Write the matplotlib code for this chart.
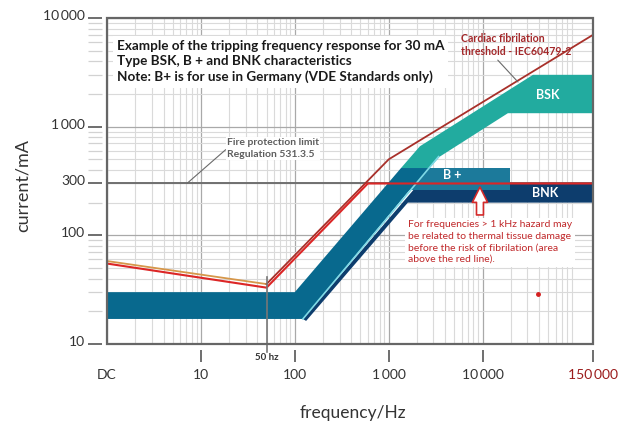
import matplotlib.pyplot as plt
from matplotlib.patches import Rectangle
from matplotlib.ticker import FixedLocator, NullFormatter
from matplotlib.transforms import ScaledTranslation

plt.rcParams['font.family'] = ['Lato', 'DejaVu Sans']

# tripping bands, frequency in Hz, current in mA
band_f = [1, 100, 1350, 2600, 122, 1]
band_i = [30, 30, 415, 415, 17, 17]

bplus_f = [1350, 19500, 19500, 1350]
bplus_i = [415, 415, 260, 260]

bsk_f = [1350, 2150, 34400, 150000, 150000, 18600, 3500, 2700]
bsk_i = [415, 660, 3000, 3000, 1330, 1330, 530, 415]

bnk_f = [122, 132, 1600, 150000, 150000, 2100]
bnk_i = [17, 16.3, 200, 200, 300, 300]

edge_f = [122, 3400]
edge_i = [17, 530]

# limit curves
cardiac_f = [1, 50, 1000, 150000]
cardiac_i = [58, 35.6, 500, 7000]
thermal_f = [1, 50, 600, 150000]
thermal_i = [55, 33, 300, 300]
fire_i = 300

x_ticks = [1, 10, 100, 1000, 10000, 150000]
x_labels = ['DC', '10', '100', '1\u2009000', '10\u2009000', '150\u2009000']
y_ticks = [10, 100, 300, 1000, 10000]
y_labels = ['10', '100', '300', '1\u2009000', '10\u2009000']

fig = plt.figure(figsize=(6.27, 4.24), dpi=100)
ax = fig.add_axes([107 / 627, 80 / 424, 486 / 627, 326 / 424])
ax.set_xscale('log')
ax.set_yscale('log')
ax.set_xlim(1, 150000)
ax.set_ylim(10, 10000)

ax.grid(which='major', color='#a9a9a9', lw=0.9, zorder=0)
ax.grid(which='minor', color='#dadada', lw=0.8, zorder=0)
ax.set_axisbelow(True)

ax.axhline(fire_i, color='#707070', lw=1.4, zorder=1)

ax.fill(bsk_f, bsk_i, color='#22ab9f', lw=0, zorder=2)
ax.fill(bnk_f, bnk_i, color='#0d3d6d', lw=0, zorder=2)
ax.fill(bplus_f, bplus_i, color='#1c7a9b', lw=0, zorder=3)
ax.fill(band_f, band_i, color='#08698e', lw=0, zorder=4)
ax.plot(edge_f, edge_i, color='#7fd9e6', lw=1.2, zorder=5)

ax.plot(cardiac_f[:2], cardiac_i[:2], color='#d6974a', lw=1.3, zorder=6)
ax.plot(cardiac_f[1:], cardiac_i[1:], color='#a8302a', lw=1.3, zorder=6)
ax.plot(thermal_f, thermal_i, color='#dc2626', lw=1.5, zorder=6)

ax.plot([50, 50], [41, 8.4], color='#777777', lw=1.2, zorder=6, clip_on=False)
ax.text(50, -0.04, '50 hz', transform=ax.get_xaxis_transform(), ha='center',
        va='center', fontsize=7, fontweight='bold', color='#333333')

ax.plot(38900, 28.8, 'o', color='#d42020', ms=2.5, zorder=6)

ax.text(49700, 1956, 'BSK', color='white', fontsize=9, fontweight='bold',
        ha='center', va='center', zorder=7)
ax.text(4722, 359, 'B +', color='white', fontsize=9, fontweight='bold',
        ha='center', va='center', zorder=7)
ax.text(46200, 245, 'BNK', color='white', fontsize=9, fontweight='bold',
        ha='center', va='center', zorder=7)

ax.text(0.02, 0.866,
        'Example of the tripping frequency response for 30 mA\n'
        'Type BSK, B + and BNK characteristics\n'
        'Note: B+ is for use in Germany (VDE Standards only)',
        transform=ax.transAxes, ha='left', va='center', fontsize=9.7,
        fontweight='bold', color='#1a1a1a', linespacing=1.33, zorder=7,
        bbox=dict(fc='white', ec='none', pad=3))

ax.annotate('Fire protection limit\nRegulation 531.3.5', xy=(7.1, 300),
            xytext=(19, 630), ha='left', va='center', fontsize=7.5,
            fontweight='bold', color='#5e5e5e', linespacing=1.3, zorder=7,
            bbox=dict(fc='white', ec='none', pad=1),
            arrowprops=dict(arrowstyle='-', color='#6a6a6a', lw=0.8,
                            shrinkA=0, shrinkB=0, relpos=(0, 0.5)))

ax.annotate('Cardiac fibrilation\nthreshold - IEC60479-2', xy=(23830, 2577),
            xytext=(5890, 5643), ha='left', va='center', fontsize=7.6,
            fontweight='bold', color='#a3282a', linespacing=1.3, zorder=7,
            arrowprops=dict(arrowstyle='-', color='#6a6a6a', lw=0.8,
                            shrinkA=0, shrinkB=0, relpos=(0.31, 0)))

ax.text(1605, 86.8,
        'For frequencies > 1 kHz hazard may\n'
        'be related to thermal tissue damage\n'
        'before the risk of fibrilation (area\n'
        'above the red line).',
        ha='left', va='center', fontsize=7.5, color='#c0282a',
        linespacing=1.35, zorder=7, bbox=dict(fc='white', ec='none', pad=2))

ax.annotate('', xy=(9380, 278), xytext=(9380, 154),
            arrowprops=dict(arrowstyle='simple,head_length=1.1,head_width=1.1,tail_width=0.5',
                            fc='white', ec='#d42a2a', lw=1.2, shrinkA=0, shrinkB=0),
            zorder=8)

# frame
ax.add_patch(Rectangle((0, 0), 1, 1, transform=ax.transAxes, fill=False,
                       ec='#666666', lw=1.6, zorder=9, clip_on=False))
for s in ['top', 'right']:
    ax.spines[s].set_visible(False)
ax.spines['left'].set_position(('outward', 3.6))
ax.spines['bottom'].set_position(('outward', 4.3))
ax.spines['left'].set_color('none')
ax.spines['bottom'].set_color('none')

ax.xaxis.set_major_locator(FixedLocator(x_ticks))
ax.set_xticklabels(x_labels)
ax.xaxis.set_minor_formatter(NullFormatter())
ax.yaxis.set_major_locator(FixedLocator(y_ticks))
ax.set_yticklabels(y_labels)
ax.yaxis.set_minor_formatter(NullFormatter())

ax.tick_params(axis='x', which='major', length=8.6, width=1.2, color='#555555',
               pad=5, labelsize=10, labelcolor='#333333')
ax.tick_params(axis='x', which='minor', length=0)
ax.tick_params(axis='y', which='major', length=10, width=1.2, color='#555555',
               pad=2, labelsize=10, labelcolor='#333333')
ax.tick_params(axis='y', which='minor', length=10, width=0.9, color='#d2d2d2')
ax.xaxis.get_major_ticks()[0].tick1line.set_visible(False)
ax.get_xticklabels()[-1].set_color('#9b1c1c')

# y labels sit a little above their tick marks
lift = ScaledTranslation(0, 3 / 100, fig.dpi_scale_trans)
for lab in ax.get_yticklabels():
    lab.set_transform(lab.get_transform() + lift)

fig.text(353 / 627, 1 - 413 / 424, 'frequency/Hz', ha='center', va='center',
         fontsize=12.5, color='#333333')
fig.text(23 / 627, 1 - 186 / 424, 'current/mA', ha='center', va='center',
         rotation=90, fontsize=13, color='#333333')

fig.savefig('out.png', dpi=100)
